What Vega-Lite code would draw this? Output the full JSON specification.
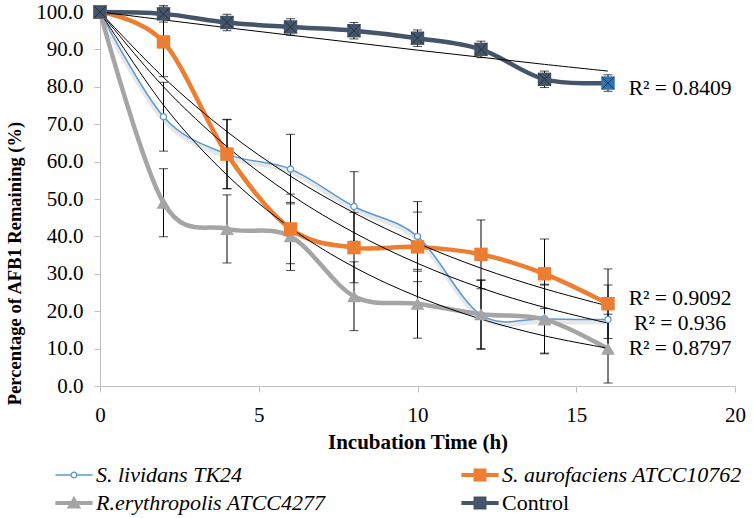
{
  "$schema": "https://vega.github.io/schema/vega-lite/v6.json",
  "width": 635,
  "height": 374,
  "autosize": "none",
  "padding": {"left": 100, "top": 12, "right": 18, "bottom": 132},
  "background": "white",
  "config": {
    "view": {"stroke": null},
    "font": "Liberation Serif",
    "axis": {
      "grid": false,
      "domainColor": "#BFBFBF",
      "tickColor": "#BFBFBF",
      "labelFont": "Liberation Serif",
      "labelFontSize": 21,
      "labelColor": "#000000",
      "labelFlush": false,
      "titleFont": "Liberation Serif",
      "titleFontWeight": "bold",
      "titleColor": "#000000"
    },
    "legend": {
      "labelFont": "Liberation Serif",
      "labelFontSize": 22,
      "labelColor": "#000000"
    }
  },
  "datasets": {
    "main": [
      {"series": "S. lividans TK24", "time": 0, "value": 100, "err": 0},
      {"series": "S. lividans TK24", "time": 2, "value": 72, "err": 9.2},
      {"series": "S. lividans TK24", "time": 4, "value": 62, "err": 9.2},
      {"series": "S. lividans TK24", "time": 6, "value": 58, "err": 9.3},
      {"series": "S. lividans TK24", "time": 8, "value": 48, "err": 9.3},
      {"series": "S. lividans TK24", "time": 10, "value": 40, "err": 9.3},
      {"series": "S. lividans TK24", "time": 12, "value": 19, "err": 9.2},
      {"series": "S. lividans TK24", "time": 14, "value": 18, "err": 9.2},
      {"series": "S. lividans TK24", "time": 16, "value": 17.8, "err": 9.2},
      {"series": "S. aurofaciens ATCC10762", "time": 0, "value": 100, "err": 0},
      {"series": "S. aurofaciens ATCC10762", "time": 2, "value": 92, "err": 9.3},
      {"series": "S. aurofaciens ATCC10762", "time": 4, "value": 62, "err": 9.3},
      {"series": "S. aurofaciens ATCC10762", "time": 6, "value": 42, "err": 9.3},
      {"series": "S. aurofaciens ATCC10762", "time": 8, "value": 37, "err": 9.4},
      {"series": "S. aurofaciens ATCC10762", "time": 10, "value": 37.2, "err": 9.3},
      {"series": "S. aurofaciens ATCC10762", "time": 12, "value": 35.2, "err": 9.2},
      {"series": "S. aurofaciens ATCC10762", "time": 14, "value": 30, "err": 9.3},
      {"series": "S. aurofaciens ATCC10762", "time": 16, "value": 22, "err": 9.3},
      {"series": "R.erythropolis ATCC4277", "time": 0, "value": 100, "err": 0},
      {"series": "R.erythropolis ATCC4277", "time": 2, "value": 49, "err": 9.1},
      {"series": "R.erythropolis ATCC4277", "time": 4, "value": 42, "err": 9.1},
      {"series": "R.erythropolis ATCC4277", "time": 6, "value": 40, "err": 9.1},
      {"series": "R.erythropolis ATCC4277", "time": 8, "value": 24, "err": 9.2},
      {"series": "R.erythropolis ATCC4277", "time": 10, "value": 22, "err": 9.2},
      {"series": "R.erythropolis ATCC4277", "time": 12, "value": 19.2, "err": 9.2},
      {"series": "R.erythropolis ATCC4277", "time": 14, "value": 17.8, "err": 9.2},
      {"series": "R.erythropolis ATCC4277", "time": 16, "value": 10, "err": 9.2},
      {"series": "Control", "time": 0, "value": 100, "err": 0},
      {"series": "Control", "time": 2, "value": 99.5, "err": 2.2},
      {"series": "Control", "time": 4, "value": 97.2, "err": 2.2},
      {"series": "Control", "time": 6, "value": 96, "err": 2.2},
      {"series": "Control", "time": 8, "value": 95, "err": 2.2},
      {"series": "Control", "time": 10, "value": 93, "err": 2.2},
      {"series": "Control", "time": 12, "value": 90, "err": 2.2},
      {"series": "Control", "time": 14, "value": 82, "err": 2.2},
      {"series": "Control", "time": 16, "value": 81, "err": 2.2}
    ],
    "trend": [
      {"series": "Control", "time": 0, "value": 100},
      {"series": "Control", "time": 2, "value": 97.9},
      {"series": "Control", "time": 4, "value": 95.8},
      {"series": "Control", "time": 6, "value": 93.8},
      {"series": "Control", "time": 8, "value": 91.8},
      {"series": "Control", "time": 10, "value": 89.8},
      {"series": "Control", "time": 12, "value": 87.9},
      {"series": "Control", "time": 14, "value": 86.0},
      {"series": "Control", "time": 16, "value": 84.2},
      {"series": "S. aurofaciens ATCC10762", "time": 0, "value": 100},
      {"series": "S. aurofaciens ATCC10762", "time": 2, "value": 82.5},
      {"series": "S. aurofaciens ATCC10762", "time": 4, "value": 68.0},
      {"series": "S. aurofaciens ATCC10762", "time": 6, "value": 56.1},
      {"series": "S. aurofaciens ATCC10762", "time": 8, "value": 46.3},
      {"series": "S. aurofaciens ATCC10762", "time": 10, "value": 38.2},
      {"series": "S. aurofaciens ATCC10762", "time": 12, "value": 31.5},
      {"series": "S. aurofaciens ATCC10762", "time": 14, "value": 26.0},
      {"series": "S. aurofaciens ATCC10762", "time": 16, "value": 21.4},
      {"series": "S. lividans TK24", "time": 0, "value": 100},
      {"series": "S. lividans TK24", "time": 2, "value": 80.0},
      {"series": "S. lividans TK24", "time": 4, "value": 64.0},
      {"series": "S. lividans TK24", "time": 6, "value": 51.2},
      {"series": "S. lividans TK24", "time": 8, "value": 41.0},
      {"series": "S. lividans TK24", "time": 10, "value": 32.8},
      {"series": "S. lividans TK24", "time": 12, "value": 26.2},
      {"series": "S. lividans TK24", "time": 14, "value": 21.0},
      {"series": "S. lividans TK24", "time": 16, "value": 16.8},
      {"series": "R.erythropolis ATCC4277", "time": 0, "value": 100},
      {"series": "R.erythropolis ATCC4277", "time": 2, "value": 75.1},
      {"series": "R.erythropolis ATCC4277", "time": 4, "value": 56.4},
      {"series": "R.erythropolis ATCC4277", "time": 6, "value": 42.3},
      {"series": "R.erythropolis ATCC4277", "time": 8, "value": 31.8},
      {"series": "R.erythropolis ATCC4277", "time": 10, "value": 23.9},
      {"series": "R.erythropolis ATCC4277", "time": 12, "value": 17.9},
      {"series": "R.erythropolis ATCC4277", "time": 14, "value": 13.4},
      {"series": "R.erythropolis ATCC4277", "time": 16, "value": 10.1}
    ],
    "r2": [
      {"label": "R² = 0.8409", "time": 18.27, "value": 79.4},
      {"label": "R² = 0.9092", "time": 18.27, "value": 23.2},
      {"label": "R² = 0.936", "time": 18.27, "value": 16.6},
      {"label": "R² = 0.8797", "time": 18.27, "value": 10.0}
    ]
  },
  "data": {"name": "main"},
  "encoding": {
    "x": {
      "field": "time", "type": "quantitative",
      "scale": {"domain": [0, 20], "nice": false},
      "axis": {"values": [0, 5, 10, 15, 20], "title": "Incubation Time (h)", "titleFontSize": 21, "tickSize": 6, "labelPadding": 12, "titlePadding": 6}
    },
    "y": {
      "field": "value", "type": "quantitative",
      "scale": {"domain": [0, 100], "nice": false},
      "axis": {"values": [0, 10, 20, 30, 40, 50, 60, 70, 80, 90, 100], "format": ".1f", "title": "Percentage of AFB1 Remaining (%)", "titleFontSize": 18.5, "tickSize": 6, "labelPadding": 11, "titleAngle": 270, "titleX": -80, "titleY": 251, "titleAlign": "center", "titleBaseline": "alphabetic"}
    }
  },
  "layer": [
    {
      "mark": {"type": "errorbar", "ticks": {"size": 9, "color": "#000000"}, "rule": {"color": "#000000", "strokeWidth": 1}},
      "encoding": {
        "x": {"field": "time", "type": "quantitative"},
        "y": {"field": "value", "type": "quantitative"},
        "yError": {"field": "err"}
      }
    },
    {
      "transform": [{"filter": "datum.series === 'S. lividans TK24'"}],
      "mark": {"type": "line", "interpolate": "cardinal", "color": "#BBBBBB", "strokeWidth": 5, "opacity": 0.35, "yOffset": 2.5},
      "encoding": {}
    },
    {
      "transform": [{"filter": "datum.series === 'S. lividans TK24'"}],
      "mark": {"type": "line", "interpolate": "cardinal", "color": "#5B9BD5", "strokeWidth": 1.5},
      "encoding": {}
    },
    {
      "transform": [{"filter": "datum.series === 'R.erythropolis ATCC4277'"}],
      "mark": {"type": "line", "interpolate": "cardinal", "color": "#A5A5A5", "strokeWidth": 4.5},
      "encoding": {}
    },
    {
      "transform": [{"filter": "datum.series === 'S. aurofaciens ATCC10762'"}],
      "mark": {"type": "line", "interpolate": "cardinal", "color": "#ED7D31", "strokeWidth": 4.5},
      "encoding": {}
    },
    {
      "transform": [{"filter": "datum.series === 'Control'"}],
      "mark": {"type": "line", "interpolate": "cardinal", "color": "#44546A", "strokeWidth": 4.5},
      "encoding": {}
    },
    {
      "data": {"name": "trend"},
      "mark": {"type": "line", "interpolate": "cardinal", "color": "#000000", "strokeWidth": 1},
      "encoding": {"detail": {"field": "series"}}
    },
    {
      "transform": [{"filter": "datum.series === 'S. lividans TK24'"}],
      "mark": {"type": "point", "shape": "circle", "filled": true, "fill": "#FFFFFF", "stroke": "#5B9BD5", "strokeWidth": 1.3, "size": 38, "opacity": 1}
    },
    {
      "transform": [{"filter": "datum.series === 'R.erythropolis ATCC4277'"}],
      "mark": {"type": "point", "shape": "triangle-up", "filled": true, "color": "#A5A5A5", "size": 190, "opacity": 1}
    },
    {
      "transform": [{"filter": "datum.series === 'S. aurofaciens ATCC10762'"}],
      "mark": {"type": "point", "shape": "square", "filled": true, "color": "#ED7D31", "size": 180, "opacity": 1}
    },
    {
      "transform": [{"filter": "datum.series === 'Control'"}],
      "mark": {"type": "point", "shape": "square", "filled": true, "size": 180, "opacity": 1},
      "encoding": {
        "color": {"condition": {"test": "datum.time === 16", "value": "#2E75B6"}, "value": "#44546A"}
      }
    },
    {
      "transform": [{"filter": "datum.series === 'Control'"}],
      "mark": {"type": "point", "shape": "M-1,-1L1,1M-1,1L1,-1", "filled": false, "stroke": "#27303D", "strokeWidth": 1, "size": 150, "opacity": 1}
    },
    {
      "data": {"name": "r2"},
      "mark": {"type": "text", "font": "Liberation Serif", "fontSize": 21.5, "align": "center", "baseline": "middle", "color": "#000000"},
      "encoding": {"text": {"field": "label"}}
    },
    {
      "transform": [{"filter": "datum.time < 0"}],
      "mark": {"type": "point", "filled": true, "opacity": 1},
      "encoding": {
        "color": {
          "field": "series", "type": "nominal",
          "scale": {"domain": ["S. lividans TK24", "S. aurofaciens ATCC10762", "R.erythropolis ATCC4277", "Control"], "range": ["#5B9BD5", "#ED7D31", "#A5A5A5", "#44546A"]},
          "legend": {
            "title": null, "orient": "none", "legendX": -38, "legendY": 451, "columns": 2, "direction": "horizontal",
            "columnPadding": 135, "rowPadding": 5, "padding": 0,
            "symbolSize": 576, "symbolStrokeWidth": 0, "labelOffset": 10, "labelLimit": 400,
            "labelFont": "Liberation Serif", "labelFontSize": 22, "labelColor": "#000000",
            "labelFontStyle": {"expr": "datum.value === 'Control' ? 'normal' : 'italic'"}
          }
        },
        "shape": {
          "field": "series", "type": "nominal",
          "scale": {"domain": ["S. lividans TK24", "S. aurofaciens ATCC10762", "R.erythropolis ATCC4277", "Control"], "range": [
            "M-1.55,-0.065H-0.29V0.065H-1.55Z M0.29,-0.065H1.55V0.065H0.29Z M0.3,0A0.3,0.3 0 1 0 -0.3,0A0.3,0.3 0 1 0 0.3,0Z M0.18,0A0.18,0.18 0 1 1 -0.18,0A0.18,0.18 0 1 1 0.18,0Z",
            "M-1.55,-0.17H1.55V0.17H-1.55Z M-0.54,-0.54H0.54V0.54H-0.54Z",
            "M-1.55,-0.17H1.55V0.17H-1.55Z M0,-0.6L0.6,0.45H-0.6Z",
            "M-1.55,-0.17H1.55V0.17H-1.55Z M-0.54,-0.54H0.54V0.54H-0.54Z"
          ]},
          "legend": null
        }
      }
    }
  ]
}
